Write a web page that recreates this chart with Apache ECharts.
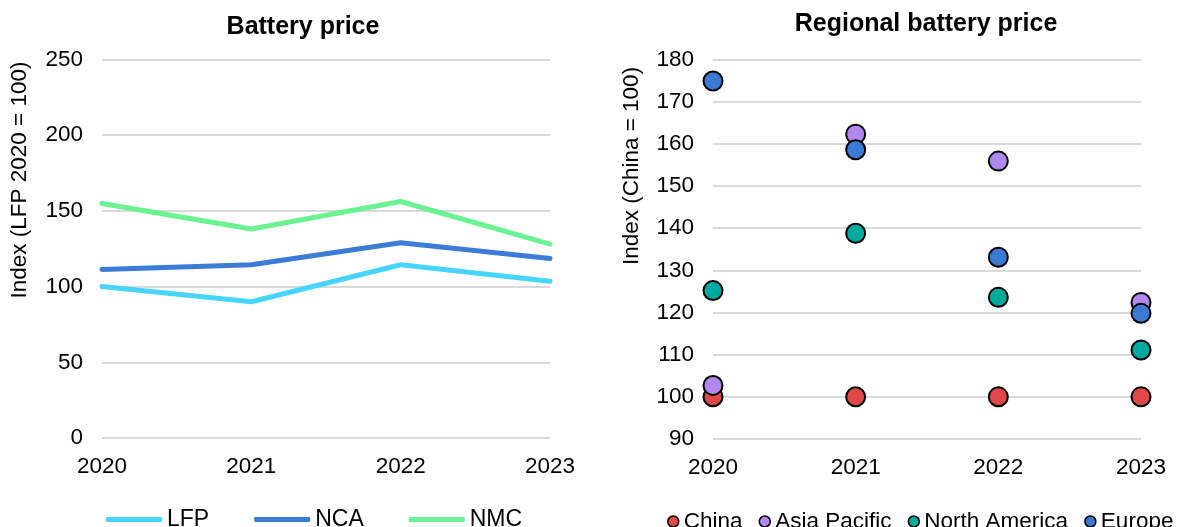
<!DOCTYPE html>
<html>
<head>
<meta charset="utf-8">
<script src="https://cdn.jsdelivr.net/npm/echarts@6/dist/echarts.min.js"></script>
<style>
  html, body { margin: 0; padding: 0; background: #ffffff; }
  #chart { width: 1177px; height: 527px; }
</style>
</head>
<body>
<div id="chart"></div>
<script>
// Years shared by both panels
const years = ['2020', '2021', '2022', '2023'];

// Battery price by chemistry, index LFP 2020 = 100
const lfp = [100, 90, 114.4, 103.5];
const nca = [111.3, 114.4, 128.9, 118.5];
const nmc = [154.9, 138, 156.2, 128.1];

// Regional battery price, index China = 100
const china = [100, 100, 100, 100];
const asiaPacific = [102.7, 162.3, 155.9, 122.4];
const northAmerica = [125.2, 138.8, 123.6, 111.1];
const europe = [174.9, 158.6, 133.1, 119.8];

// Value-axis ranges
const priceTicks = { min: 0, max: 250, interval: 50 };
const regionTicks = { min: 90, max: 180, interval: 10 };

const FONT = "'Liberation Sans', Arial, sans-serif";
const GRID_LINE = { show: true, lineStyle: { color: '#d9d9d9', width: 2 } };

const chart = echarts.init(document.getElementById('chart'), null, { renderer: 'canvas' });

const lineSeries = (name, data, color) => ({
  name, type: 'line', data,
  xAxisIndex: 0, yAxisIndex: 0,
  symbol: 'none', smooth: false,
  lineStyle: { color, width: 5, cap: 'round', join: 'round' },
  itemStyle: { color },
  emphasis: { disabled: true }
});

const dotSeries = (name, data, color) => ({
  name, type: 'scatter', data,
  xAxisIndex: 1, yAxisIndex: 1,
  symbol: 'circle', symbolSize: 19,
  itemStyle: { color, borderColor: '#000000', borderWidth: 2, opacity: 1 },
  emphasis: { disabled: true }
});

const xAxisBase = (gridIndex) => ({
  type: 'category', gridIndex, data: years, boundaryGap: false,
  axisLine: { show: false }, axisTick: { show: false },
  splitLine: { show: false },
  axisLabel: { color: '#000000', fontSize: 22.5, fontFamily: FONT, margin: 17 }
});

const yAxisBase = (gridIndex, ticks) => ({
  type: 'value', gridIndex,
  min: ticks.min, max: ticks.max, interval: ticks.interval,
  axisLine: { show: false }, axisTick: { show: false },
  splitLine: GRID_LINE,
  axisLabel: { color: '#000000', fontSize: 22.5, fontFamily: FONT, margin: 19 }
});

chart.setOption({
  animation: false,
  backgroundColor: '#ffffff',
  textStyle: { fontFamily: FONT },
  grid: [
    { left: 102, top: 59.5, width: 448, height: 378.5 },
    { left: 713, top: 59.5, width: 428, height: 379.5 }
  ],
  xAxis: [xAxisBase(0), xAxisBase(1)],
  yAxis: [yAxisBase(0, priceTicks), yAxisBase(1, regionTicks)],
  legend: [
    {
      data: ['LFP', 'NCA', 'NMC'],
      left: 101, top: 503, width: 600,
      itemWidth: 56, itemHeight: 5, itemGap: 45,
      icon: 'roundRect',
      textStyle: { color: '#000000', fontSize: 23, fontFamily: FONT },
      selectedMode: false
    },
    {
      data: ['China', 'Asia Pacific', 'North America', 'Europe'],
      left: 662, top: 505, width: 700,
      itemWidth: 11, itemHeight: 11, itemGap: 16,
      icon: 'circle',
      itemStyle: { borderColor: '#000000', borderWidth: 1.5 },
      textStyle: { color: '#000000', fontSize: 22.5, fontFamily: FONT },
      selectedMode: false
    }
  ],
  graphic: [
    {
      type: 'text', x: 303, y: 27,
      style: { text: 'Battery price', fill: '#000000', font: "bold 25px 'Liberation Sans', Arial, sans-serif", align: 'center', verticalAlign: 'middle' }
    },
    {
      type: 'text', x: 926, y: 24,
      style: { text: 'Regional battery price', fill: '#000000', font: "bold 25px 'Liberation Sans', Arial, sans-serif", align: 'center', verticalAlign: 'middle' }
    },
    {
      type: 'text', x: 20, y: 180, rotation: Math.PI / 2,
      style: { text: 'Index (LFP 2020 = 100)', fill: '#000000', font: "22.5px 'Liberation Sans', Arial, sans-serif", align: 'center', verticalAlign: 'middle' }
    },
    {
      type: 'text', x: 632, y: 166, rotation: Math.PI / 2,
      style: { text: 'Index (China = 100)', fill: '#000000', font: "22.5px 'Liberation Sans', Arial, sans-serif", align: 'center', verticalAlign: 'middle' }
    }
  ],
  series: [
    lineSeries('LFP', lfp, '#48d5fd'),
    lineSeries('NCA', nca, '#3d7cd6'),
    lineSeries('NMC', nmc, '#6bf293'),
    dotSeries('China', china, '#e04848'),
    dotSeries('Asia Pacific', asiaPacific, '#b088ee'),
    dotSeries('North America', northAmerica, '#00a99d'),
    dotSeries('Europe', europe, '#3b7bd4')
  ]
});
</script>
</body>
</html>
